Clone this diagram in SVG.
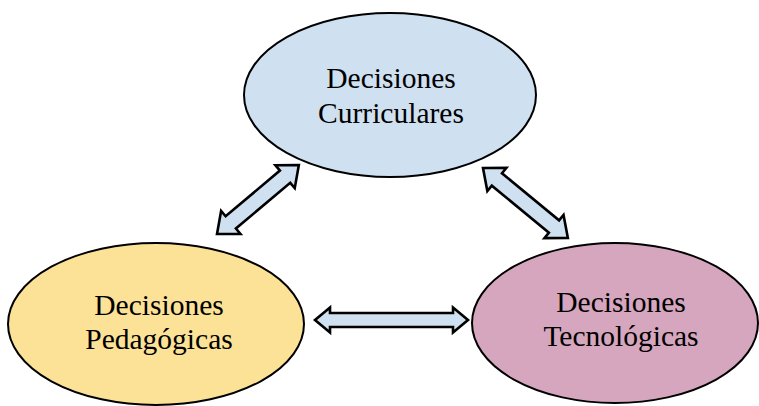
<svg xmlns="http://www.w3.org/2000/svg" width="759" height="406" viewBox="0 0 759 406">
<style>
.node ellipse{stroke:#000;stroke-width:2}
.lbl{font-family:"Liberation Serif","Times New Roman",serif;font-size:29.5px;fill:#000;text-anchor:middle}
.arr{fill:#cfe0f1;stroke:#000;stroke-width:2.6;stroke-linejoin:miter}
</style>
<rect width="759" height="406" fill="#fff"/>
<g id="curriculares" class="node">
<ellipse cx="390" cy="95" rx="146" ry="82" fill="#cfe0f1"/>
<text class="lbl" x="391" y="88">Decisiones</text>
<text class="lbl" x="391" y="123">Curriculares</text>
</g>
<g id="pedagogicas" class="node">
<ellipse cx="156" cy="324" rx="148" ry="81" fill="#fce297"/>
<text class="lbl" x="159" y="315">Decisiones</text>
<text class="lbl" x="159" y="349">Pedagógicas</text>
</g>
<g id="tecnologicas" class="node">
<ellipse cx="615" cy="323" rx="143" ry="80" fill="#d5a6bd"/>
<text class="lbl" x="621" y="312">Decisiones</text>
<text class="lbl" x="621" y="346">Tecnológicas</text>
</g>
<g id="connectors">
<polygon class="arr" transform="translate(217,234) rotate(-40.1)" points="0,0 18,-15 18,-8 89,-8 89,-15 107,0 89,15 89,8 18,8 18,15"/>
<polygon class="arr" transform="translate(483,168) rotate(39.5)" points="0,0 18,-15 18,-8 92,-8 92,-15 110,0 92,15 92,8 18,8 18,15"/>
<polygon class="arr" transform="translate(315,320)" points="0,0 15,-12.5 15,-7 138,-7 138,-12.5 153,0 138,12.5 138,7 15,7 15,12.5"/>
</g>
</svg>
